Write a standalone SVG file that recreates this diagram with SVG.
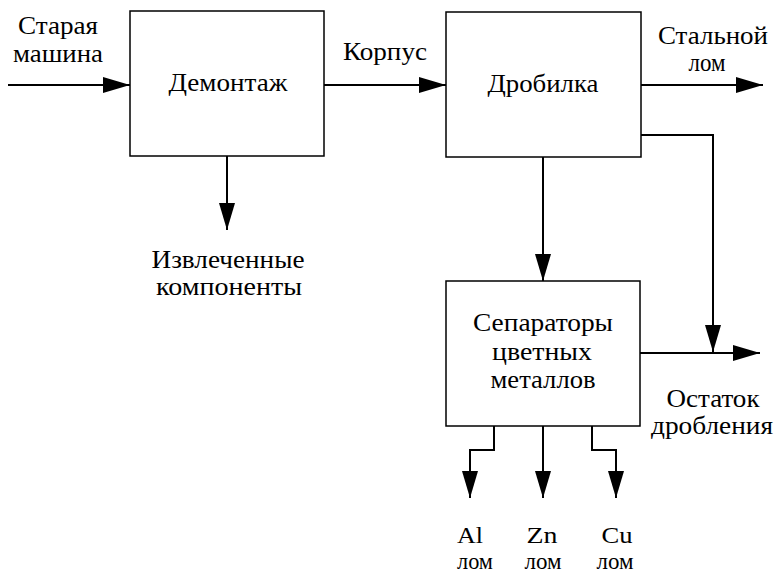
<svg xmlns="http://www.w3.org/2000/svg" width="775" height="574" viewBox="0 0 775 574">
<style>
.box{fill:#fff;stroke:#000;stroke-width:1.5}
.ln{fill:none;stroke:#000;stroke-width:2;marker-end:url(#ah)}
text{font-family:"Liberation Serif","Times New Roman",serif;font-size:26px;fill:#000;text-anchor:middle}
.sm{font-size:24px}
</style>
<defs>
<marker id="ah" viewBox="0 0 27 16" markerWidth="27" markerHeight="16" refX="27" refY="8" orient="auto" markerUnits="userSpaceOnUse">
<path d="M0,0 L27,8 L0,16 z" fill="#000"/>
</marker>
</defs>
<rect width="775" height="574" fill="#fff"/>
<g id="connectors">
<path class="ln" d="M8,85 H130"/>
<path class="ln" d="M324,85 H446"/>
<path class="ln" d="M641,85 H763"/>
<path class="ln" d="M227,156 V230"/>
<path class="ln" d="M543,157 V281"/>
<path class="ln" d="M641,135 H713 V352"/>
<path class="ln" d="M640,353 H760"/>
<path class="ln" d="M494,426 V450 H470 V498"/>
<path class="ln" d="M543,426 V498"/>
<path class="ln" d="M592,426 V450 H616 V498"/>
</g>
<g id="demontazh">
<rect class="box" x="130" y="11" width="194" height="145"/>
<text x="228" y="91" textLength="119" lengthAdjust="spacingAndGlyphs">Демонтаж</text>
</g>
<g id="drobilka">
<rect class="box" x="446" y="12" width="195" height="145"/>
<text x="543" y="92" textLength="111" lengthAdjust="spacingAndGlyphs">Дробилка</text>
</g>
<g id="separatory">
<rect class="box" x="446" y="281" width="194" height="145"/>
<text x="543" y="331" textLength="140" lengthAdjust="spacingAndGlyphs">Сепараторы</text>
<text x="542" y="360" textLength="100" lengthAdjust="spacingAndGlyphs">цветных</text>
<text x="543" y="388" textLength="105" lengthAdjust="spacingAndGlyphs">металлов</text>
</g>
<g id="labels">
<text x="58" y="34" textLength="80" lengthAdjust="spacingAndGlyphs">Старая</text>
<text x="58" y="62" textLength="90" lengthAdjust="spacingAndGlyphs">машина</text>
<text x="385" y="60" textLength="84" lengthAdjust="spacingAndGlyphs">Корпус</text>
<text x="713" y="44" textLength="110" lengthAdjust="spacingAndGlyphs">Стальной</text>
<text x="707" y="71" textLength="37" lengthAdjust="spacingAndGlyphs">лом</text>
<text x="228" y="268" textLength="153" lengthAdjust="spacingAndGlyphs">Извлеченные</text>
<text x="229" y="295" textLength="146" lengthAdjust="spacingAndGlyphs">компоненты</text>
<text x="713" y="407" textLength="93" lengthAdjust="spacingAndGlyphs">Остаток</text>
<text x="712" y="434" textLength="122" lengthAdjust="spacingAndGlyphs">дробления</text>
<text class="sm" x="470" y="543" textLength="26" lengthAdjust="spacingAndGlyphs">Al</text>
<text class="sm" x="542" y="543" textLength="31" lengthAdjust="spacingAndGlyphs">Zn</text>
<text class="sm" x="617" y="543" textLength="31" lengthAdjust="spacingAndGlyphs">Cu</text>
<text class="sm" x="475" y="569" textLength="36" lengthAdjust="spacingAndGlyphs">лом</text>
<text class="sm" x="543" y="569" textLength="37" lengthAdjust="spacingAndGlyphs">лом</text>
<text class="sm" x="615" y="569" textLength="37" lengthAdjust="spacingAndGlyphs">лом</text>
</g>
</svg>
